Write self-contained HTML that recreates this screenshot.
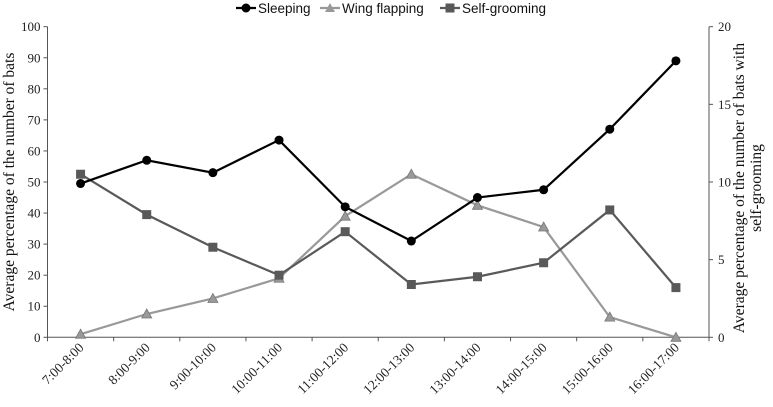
<!DOCTYPE html>
<html><head><meta charset="utf-8"><style>
body{margin:0;background:#fff;}
svg{display:block;}
svg text{font-family:"Liberation Serif","Times New Roman",serif;}
svg .sans{font-family:"Liberation Sans",Arial,sans-serif;}
</style></head><body>
<svg id="chart" width="773" height="407"></svg>
<script>
const categories=["7:00-8:00","8:00-9:00","9:00-10:00","10:00-11:00","11:00-12:00","12:00-13:00","13:00-14:00","14:00-15:00","15:00-16:00","16:00-17:00"];
const sleeping=[49.5,57,53,63.5,42,31,45,47.5,67,89];
const wingFlapping=[1,7.5,12.5,19,39,52.5,42.5,35.5,6.5,0];
const selfGrooming=[10.5,7.9,5.8,4.0,6.8,3.4,3.9,4.8,8.2,3.2];
const leftTicks=[0,10,20,30,40,50,60,70,80,90,100];
const rightTicks=[0,5,10,15,20];

const NS="http://www.w3.org/2000/svg";
const svg=document.getElementById('chart');
const X0=47.5,X1=709,Y0=337.3,Y1=26.7;
const bw=(X1-X0)/categories.length;
const xs=i=>X0+bw*(i+0.5);
const yl=v=>Y0-(v/100)*(Y0-Y1);
const yr=v=>Y0-(v/20)*(Y0-Y1);
function mk(tag,attrs,parent){const e=document.createElementNS(NS,tag);for(const k in attrs)e.setAttribute(k,attrs[k]);(parent||svg).appendChild(e);return e;}

const axes=mk('g',{});


mk('line',{x1:X0,y1:Y1,x2:X0,y2:Y0,stroke:'#555','stroke-width':1},axes);
mk('line',{x1:X1,y1:Y1,x2:X1,y2:Y0,stroke:'#555','stroke-width':1},axes);
mk('line',{x1:X0,y1:Y0,x2:X1,y2:Y0,stroke:'#555','stroke-width':1},axes);
leftTicks.forEach(v=>{
  mk('line',{x1:X0-4,y1:yl(v),x2:X0,y2:yl(v),stroke:'#555'},axes);
  const t=mk('text',{x:X0-7,y:yl(v)+4.5,'text-anchor':'end','font-size':13,fill:'#222'},axes);
  t.textContent=v;
  
  
});
rightTicks.forEach(v=>{
  mk('line',{x1:X1,y1:yr(v),x2:X1+4,y2:yr(v),stroke:'#555'},axes);
  const t=mk('text',{x:X1+9,y:yr(v)+4.5,'font-size':13,fill:'#222'},axes);
  t.textContent=v;
  
  
});
for(let i=0;i<=categories.length;i++){
  mk('line',{x1:X0+bw*i,y1:Y0,x2:X0+bw*i,y2:Y0+4,stroke:'#555'},axes);
}
categories.forEach((c,i)=>{
  const x=xs(i)+4,y=Y0+11;
  const t=mk('text',{x:x,y:y,'text-anchor':'end','font-size':13.5,fill:'#222',transform:`rotate(-45 ${x} ${y})`},axes);
  t.textContent=c;
  
  
});
const lt=mk('text',{x:0,y:0,'text-anchor':'middle','font-size':15.5,fill:'#111',transform:`translate(14 ${(Y0+Y1)/2}) rotate(-90)`});
lt.textContent='Average percentage of the number of bats';


const rt=mk('text',{'text-anchor':'middle','font-size':15.5,fill:'#111',transform:`translate(752 ${(Y0+Y1)/2+6}) rotate(-90)`});


const s1=mk('tspan',{x:0,dy:-8},rt);s1.textContent='Average percentage of the number of bats with';
const s2=mk('tspan',{x:0,dy:17},rt);s2.textContent='self-grooming';

function series(name,vals,yf,color,marker){
  const g=mk('g',{});
  
  
  mk('polyline',{points:vals.map((v,i)=>xs(i)+','+yf(v)).join(' '),fill:'none',stroke:color,'stroke-width':2.2},g);
  vals.forEach((v,i)=>{
    const x=xs(i),y=yf(v);let m;
    if(marker==='circle')m=mk('circle',{cx:x,cy:y,r:4.5,fill:color},g);
    else if(marker==='square')m=mk('rect',{x:x-4.5,y:y-4.5,width:9,height:9,fill:color},g);
    else m=mk('polygon',{points:`${x},${y-5} ${x+5},${y+4} ${x-5},${y+4}`,fill:color,stroke:'#777','stroke-width':0.8},g);
    
    
  });
}
series('wing-flapping',wingFlapping,yl,'#999','tri');
series('self-grooming',selfGrooming,yr,'#595959','square');
series('sleeping',sleeping,yl,'#000','circle');

const lg=mk('g',{});


function entry(x,label,color,marker){
  const e=mk('g',{},lg);
  
  
  mk('line',{x1:x,y1:8,x2:x+20,y2:8,stroke:color,'stroke-width':2.2},e);
  const cx=x+10;
  if(marker==='circle')mk('circle',{cx:cx,cy:8,r:4.5,fill:color},e);
  else if(marker==='square')mk('rect',{x:cx-4.5,y:3.5,width:9,height:9,fill:color},e);
  else mk('polygon',{points:`${cx},3 ${cx+5},12 ${cx-5},12`,fill:color},e);
  const t=mk('text',{x:x+22,y:13,'font-size':13.5,fill:'#111','class':'sans'},e);t.textContent=label;
}
entry(236,'Sleeping','#000','circle');
entry(320,'Wing flapping','#999','tri');
entry(440,'Self-grooming','#595959','square');
</script>
</body></html>
